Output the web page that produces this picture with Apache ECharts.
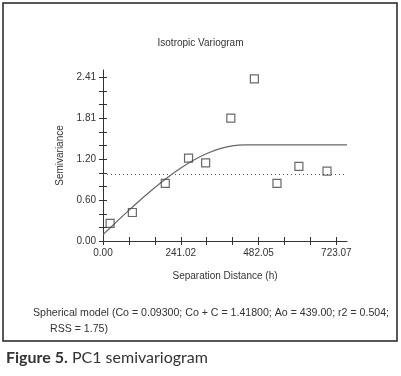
<!DOCTYPE html>
<html>
<head>
<meta charset="utf-8">
<script src="https://cdn.jsdelivr.net/npm/echarts@6/dist/echarts.min.js"></script>
<style>
  html, body { margin: 0; padding: 0; background: #fff; }
  #chart { width: 401px; height: 376px; }
</style>
</head>
<body>
<div id="chart"></div>
<script>
// lag distance (h) and semivariance of the experimental points
var lagDist = [22, 91, 193, 265, 318, 396, 469, 539, 607, 694];
var semiVar = [0.26, 0.42, 0.85, 1.22, 1.15, 1.81, 2.39, 0.85, 1.10, 1.03];

// fitted spherical model
var modelDist = [0, 40, 80, 120, 160, 200, 240, 280, 320, 360, 400, 439, 756];
var modelVal = [0.093, 0.274, 0.451, 0.623, 0.785, 0.936, 1.071, 1.189, 1.285, 1.357, 1.403, 1.418, 1.418];

// sample variance (dotted line)
var sampleVar = 0.98;

var xLabels = [0, 241.02, 482.05, 723.07];
var xTicks = [0, 80.34, 160.68, 241.02, 321.36, 401.71, 482.05, 562.39, 642.73, 723.07];
var yLabels = [0, 0.60, 1.20, 1.81, 2.41];
var yTicks = [0, 0.2, 0.4, 0.60, 0.8, 1.0, 1.20, 1.41, 1.61, 1.81, 2.01, 2.21, 2.41];

var xMax = 756, yMax = 2.52;
var font = 'Liberation Sans, Arial, sans-serif';

var myChart = echarts.init(document.getElementById('chart'));

var pts = lagDist.map(function (d, i) { return [d, semiVar[i]]; });
var model = modelDist.map(function (d, i) { return [d, modelVal[i]]; });

function tickAxis(dir, ticks, max, inside) {
    return {
        type: 'value', min: 0, max: max, position: dir === 'x' ? 'bottom' : 'left',
        splitLine: { show: false },
        axisLine: { show: !inside, lineStyle: { color: '#333', width: 1 } },
        axisTick: { show: true, inside: inside, length: 4, customValues: ticks, lineStyle: { color: '#333' } },
        axisLabel: { show: false }
    };
}

var xMain = tickAxis('x', xTicks, xMax, false);
xMain.axisLabel = {
    show: true, customValues: xLabels, margin: 7, color: '#333', fontSize: 10, fontFamily: font,
    formatter: function (v) { return v.toFixed(2); }
};
xMain.name = 'Separation Distance (h)';
xMain.nameLocation = 'middle';
xMain.nameGap = 30;
xMain.nameTextStyle = { color: '#333', fontSize: 10, fontFamily: font };

var yMain = tickAxis('y', yTicks, yMax, false);
yMain.axisLabel = {
    show: true, customValues: yLabels, margin: 7, color: '#333', fontSize: 10, fontFamily: font,
    formatter: function (v) { return v.toFixed(2); }
};
yMain.name = 'Semivariance';
yMain.nameLocation = 'middle';
yMain.nameGap = 28;
yMain.nameTextStyle = { color: '#333', fontSize: 10, fontFamily: font };

var option = {
    backgroundColor: '#fff',
    animation: false,
    title: {
        text: 'Isotropic Variogram', left: 'center', top: 33,
        textStyle: { color: '#333', fontSize: 10, fontWeight: 'normal', fontFamily: font }
    },
    grid: { left: 103, right: 54, top: 70, bottom: 135 },
    xAxis: [xMain, tickAxis('x', xTicks, xMax, true)],
    yAxis: [yMain, tickAxis('y', yTicks, yMax, true)],
    graphic: [
        { type: 'rect', shape: { x: 3, y: 3, width: 394, height: 338 },
          style: { fill: 'none', stroke: '#222', lineWidth: 1.5 }, z: -1 },
        { type: 'text', left: 33, top: 308,
          style: { text: 'Spherical model (Co = 0.09300; Co + C = 1.41800; Ao = 439.00; r2 = 0.504;',
                   fill: '#333', font: '10.6px ' + font } },
        { type: 'text', left: 50, top: 324,
          style: { text: 'RSS = 1.75)', fill: '#333', font: '10.6px ' + font } },
        { type: 'text', left: 6, top: 350,
          style: {
              text: '{b|Figure 5.} PC1 semivariogram',
              fill: '#333', font: '16px Lato, sans-serif',
              rich: { b: { fontWeight: 'bold', fontSize: 16, fontFamily: 'Lato, sans-serif', fill: '#333' } }
          } }
    ],
    series: [
        {
            type: 'line', data: [[0, sampleVar], [xMax, sampleVar]], symbol: 'none', silent: true,
            lineStyle: { color: '#555', width: 1, type: [1, 3] }
        },
        {
            type: 'line', data: model, symbol: 'none', smooth: 0.3, silent: true,
            lineStyle: { color: '#666', width: 1.2 }
        },
        {
            type: 'scatter', data: pts, symbol: 'rect', symbolSize: 8, z: 5,
            itemStyle: { color: 'rgba(255,255,255,0)', borderColor: '#444', borderWidth: 1.2 }
        }
    ]
};

myChart.setOption(option);
</script>
</body>
</html>
